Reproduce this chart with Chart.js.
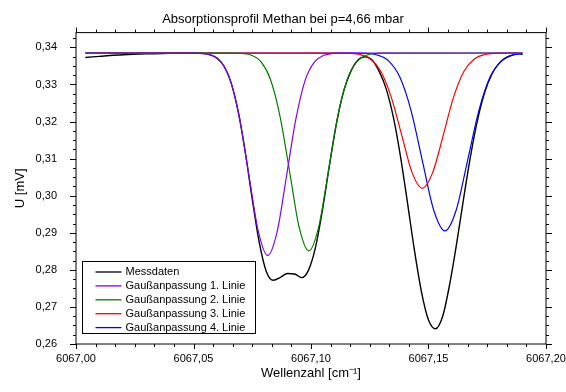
<!DOCTYPE html>
<html><head><meta charset="utf-8">
<script src="https://cdn.jsdelivr.net/npm/chart.js@4"></script>
<style>html,body{margin:0;padding:0;background:#fff}</style>
</head><body>
<canvas id="c" width="566" height="392"></canvas>
<script>
const chartTitle = 'Absorptionsprofil Methan bei p=4,66 mbar';
const xAxisTitle = 'Wellenzahl [cm\u207B\u00B9]';
const yAxisTitle = 'U [mV]';
const seriesNames = ['Messdaten', 'Gaußanpassung 1. Linie', 'Gaußanpassung 2. Linie', 'Gaußanpassung 3. Linie', 'Gaußanpassung 4. Linie'];

const xMess = [6067.004, 6067.010, 6067.016, 6067.022, 6067.030, 6067.040, 6067.051, 6067.054, 6067.057, 6067.060,
  6067.063, 6067.066, 6067.069, 6067.072, 6067.075, 6067.078, 6067.081, 6067.084, 6067.087, 6067.090,
  6067.093, 6067.096, 6067.099, 6067.102, 6067.105, 6067.108, 6067.111, 6067.114, 6067.117, 6067.120,
  6067.123, 6067.126, 6067.129, 6067.132, 6067.135, 6067.138, 6067.141, 6067.144, 6067.147, 6067.150,
  6067.153, 6067.156, 6067.159, 6067.162, 6067.165, 6067.168, 6067.171, 6067.174, 6067.177, 6067.180,
  6067.183, 6067.186, 6067.189, 6067.190];
const yMess = [0.3373, 0.3376, 0.3379, 0.3381, 0.3383, 0.3384, 0.3385, 0.33836, 0.33803, 0.33711,
  0.33492, 0.33044, 0.3228, 0.31186, 0.29908, 0.28732, 0.27952, 0.2772, 0.2780, 0.2790,
  0.2789, 0.2779, 0.2800, 0.28631, 0.29668, 0.30885, 0.32005, 0.32842, 0.3336, 0.3366,
  0.3375, 0.3366, 0.33354, 0.32882, 0.32131, 0.31091, 0.29836, 0.28533, 0.27408, 0.2665,
  0.2641, 0.2674, 0.27607, 0.28721, 0.29948, 0.31111, 0.32081, 0.32802, 0.33283, 0.3357,
  0.33725, 0.33799, 0.33825, 0.3381];

const xFit1 = [6067.004, 6067.0497, 6067.0537, 6067.0577, 6067.0617, 6067.0657, 6067.0696, 6067.0736, 6067.0776, 6067.0816,
  6067.0856, 6067.0896, 6067.0936, 6067.0975, 6067.1015, 6067.1055, 6067.1095, 6067.1135, 6067.190];
const yFit1 = [0.3385, 0.33848, 0.33838, 0.33789, 0.33610, 0.33111, 0.32077, 0.30539, 0.29032, 0.2839,
  0.29032, 0.30539, 0.32077, 0.33111, 0.33610, 0.33789, 0.33838, 0.33848, 0.3385];

const xFit2 = [6067.004, 6067.0665, 6067.0706, 6067.0747, 6067.0787, 6067.0828, 6067.0869, 6067.0910, 6067.0950, 6067.0991,
  6067.1032, 6067.1073, 6067.1113, 6067.1154, 6067.1195, 6067.1236, 6067.1276, 6067.1317, 6067.190];
const yFit2 = [0.3385, 0.33848, 0.33838, 0.33791, 0.33615, 0.33128, 0.32116, 0.30611, 0.29137, 0.2851,
  0.29137, 0.30611, 0.32116, 0.33128, 0.33615, 0.33791, 0.33838, 0.33848, 0.3385];

const xFit3 = [6067.004, 6067.1120, 6067.1164, 6067.1209, 6067.1253, 6067.1297, 6067.1341, 6067.1386, 6067.1430, 6067.1474,
  6067.1518, 6067.1563, 6067.1607, 6067.1651, 6067.1695, 6067.1740, 6067.1784, 6067.1828, 6067.190];
const yFit3 = [0.3385, 0.33849, 0.33842, 0.33809, 0.33690, 0.33356, 0.32665, 0.31636, 0.30629, 0.3020,
  0.30629, 0.31636, 0.32665, 0.33356, 0.33690, 0.33809, 0.33842, 0.33849, 0.3385];

const xFit4 = [6067.004, 6067.1185, 6067.1233, 6067.1281, 6067.1330, 6067.1378, 6067.1426, 6067.1474, 6067.1522, 6067.1570,
  6067.1618, 6067.1666, 6067.1714, 6067.1762, 6067.1811, 6067.1859, 6067.190];
const yFit4 = [0.3385, 0.33848, 0.33840, 0.33797, 0.33639, 0.33201, 0.32291, 0.30939, 0.29614, 0.2905,
  0.29614, 0.30939, 0.32291, 0.33201, 0.33639, 0.33797, 0.33837];

const xMin = 6067.00, xMax = 6067.20, xMajor = 0.05, xMinorPerMajor = 6;
const yMin = 0.26, yMax = 0.344, yMajor = 0.01, yMinorPerMajor = 4;

const colors = ['#000000', '#8000ff', '#008000', '#ff0000', '#0000ff'];
const pts = (xs, ys) => xs.map((v, i) => ({x: v, y: ys[i]}));
const seriesData = [pts(xMess, yMess), pts(xFit1, yFit1), pts(xFit2, yFit2), pts(xFit3, yFit3), pts(xFit4, yFit4)];
const drawOrder = [5, 1, 2, 3, 4];

const fmt = v => Number(v).toFixed(2).replace('.', ',');

const framePlugin = {
  id: 'frame',
  afterDatasetsDraw(chart) {
    const {ctx, chartArea: a, scales: {x, y}} = chart;
    ctx.save();
    ctx.strokeStyle = '#000';
    ctx.lineWidth = 1;
    ctx.strokeRect(a.left, a.top, a.right - a.left, a.bottom - a.top);
    ctx.beginPath();
    const nx = Math.round((xMax - xMin) / xMajor * xMinorPerMajor);
    for (let i = 0; i <= nx; i++) {
      const px = Math.round(x.getPixelForValue(xMin + i * xMajor / xMinorPerMajor)) + 0.5;
      const len = (i % xMinorPerMajor === 0) ? 5 : 3;
      ctx.moveTo(px, a.bottom); ctx.lineTo(px, a.bottom + len);
      ctx.moveTo(px, a.top); ctx.lineTo(px, a.top - len);
    }
    const ny = Math.floor((yMax - yMin) / yMajor * yMinorPerMajor + 1e-6);
    for (let i = 0; i <= ny; i++) {
      const py = Math.round(y.getPixelForValue(yMin + i * yMajor / yMinorPerMajor)) + 0.5;
      const len = (i % yMinorPerMajor === 0) ? 6 : 3;
      ctx.moveTo(a.left, py); ctx.lineTo(a.left - len, py);
      ctx.moveTo(a.right, py); ctx.lineTo(a.right + len, py);
    }
    ctx.stroke();
    ctx.restore();
  }
};

const legendPlugin = {
  id: 'innerLegend',
  afterDraw(chart) {
    const {ctx, chartArea: a} = chart;
    const bx = a.left + 6.5, by = a.bottom - 82.5, bw = 173, bh = 72;
    ctx.save();
    ctx.fillStyle = '#fff';
    ctx.fillRect(bx, by, bw, bh);
    ctx.strokeStyle = '#000';
    ctx.lineWidth = 1;
    ctx.strokeRect(bx, by, bw, bh);
    ctx.font = "11px 'Liberation Sans', Arial, sans-serif";
    ctx.textBaseline = 'middle';
    ctx.textAlign = 'left';
    chart.data.datasets.forEach((ds, i) => {
      const yy = by + 10.5 + i * 13.9;
      ctx.strokeStyle = ds.borderColor;
      ctx.lineWidth = 1.3;
      ctx.beginPath();
      ctx.moveTo(bx + 13, yy); ctx.lineTo(bx + 39, yy);
      ctx.stroke();
      ctx.fillStyle = '#000';
      ctx.fillText(ds.label, bx + 43, yy);
    });
    ctx.restore();
  }
};

Chart.defaults.font.family = "'Liberation Sans', Arial, sans-serif";
Chart.defaults.color = '#000';

new Chart(document.getElementById('c'), {
  type: 'line',
  data: {
    datasets: seriesData.map((d, i) => ({
      label: seriesNames[i],
      data: d,
      borderColor: colors[i],
      backgroundColor: colors[i],
      borderWidth: i === 0 ? 1.4 : 1.2,
      pointRadius: 0,
      cubicInterpolationMode: 'monotone',
      fill: false,
      order: drawOrder[i]
    }))
  },
  options: {
    responsive: false,
    animation: false,
    layout: {padding: {left: 0, right: 0, top: 0, bottom: 0}},
    plugins: {
      legend: {display: false},
      tooltip: {enabled: false},
      title: {
        display: true,
        text: chartTitle,
        font: {size: 13, weight: 'normal'},
        color: '#000',
        padding: {top: 12, bottom: 5}
      }
    },
    scales: {
      x: {
        type: 'linear',
        min: xMin, max: xMax,
        grid: {display: false},
        border: {display: false},
        ticks: {stepSize: xMajor, font: {size: 11}, color: '#000', padding: 0, maxRotation: 0, callback: v => fmt(v)},
        title: {display: true, text: xAxisTitle, font: {size: 13}, color: '#000', padding: {top: 0, bottom: 11}},
        afterFit: s => { s.height = 48; }
      },
      y: {
        type: 'linear',
        min: yMin, max: yMax,
        grid: {display: false},
        border: {display: false},
        ticks: {stepSize: yMajor, includeBounds: false, font: {size: 11}, color: '#000', padding: 11, callback: v => fmt(v)},
        title: {display: true, text: yAxisTitle, font: {size: 13}, color: '#000', padding: {top: 13, bottom: 0}},
        afterFit: s => { s.width = 76; }
      },
      yRight: {
        type: 'linear',
        position: 'right',
        min: yMin, max: yMax,
        display: true,
        grid: {display: false},
        border: {display: false},
        ticks: {display: false},
        afterFit: s => { s.width = 20; }
      }
    }
  },
  plugins: [framePlugin, legendPlugin]
});
</script>
</body></html>
